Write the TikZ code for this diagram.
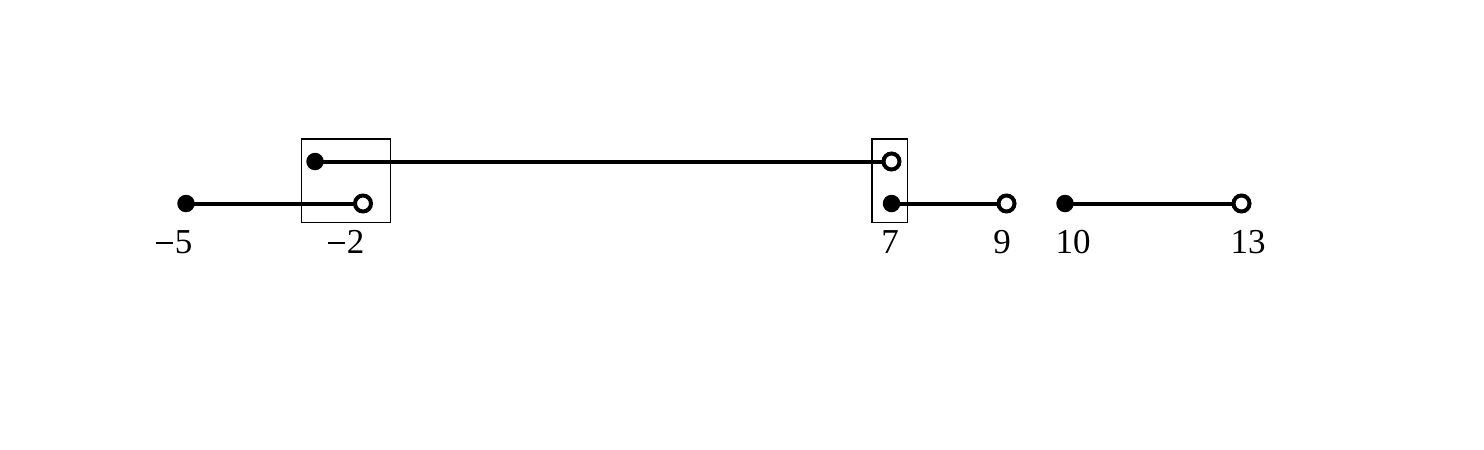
\documentclass[tikz,border=0pt]{standalone}
\usepackage{fontspec}
\setmainfont{Liberation Serif}
\begin{document}
\begin{tikzpicture}[x=1pt,y=-1pt,
  closedpt/.style={circle,fill=black,inner sep=0pt,minimum size=17.5pt},
  openpt/.style={circle,draw=black,line width=4pt,fill=white,inner sep=0pt,minimum size=16pt},
  seg/.style={line width=4pt},
  frame/.style={draw=black,line width=1.3pt},
  lab/.style={font=\fontsize{35}{40}\selectfont,inner sep=0pt}]
\useasboundingbox (0,0) rectangle (1484,450);
% boxes
\draw[frame] (301.5,139) rectangle (390.5,222.5);
\draw[frame] (872,139) rectangle (907.5,222.5);
% points
\coordinate (a1) at (186,203.5);
\coordinate (a2) at (363,203.5);
\coordinate (b1) at (315,161.5);
\coordinate (b2) at (891.5,161.5);
\coordinate (c1) at (891.5,203.5);
\coordinate (c2) at (1006.5,203.5);
\coordinate (d1) at (1065,203.5);
\coordinate (d2) at (1241.5,203.5);
\draw[seg] (a1) -- (a2);
\draw[seg] (b1) -- (b2);
\draw[seg] (c1) -- (c2);
\draw[seg] (d1) -- (d2);
\node[closedpt] (A1) at (a1) {};
\node[openpt] (A2) at (a2) {};
\node[closedpt] (B1) at (b1) {};
\node[openpt] (B2) at (b2) {};
\node[closedpt] (C1) at (c1) {};
\node[openpt] (C2) at (c2) {};
\node[closedpt] (D1) at (d1) {};
\node[openpt] (D2) at (d2) {};
% labels
\node[lab,anchor=base] (l1) at (174,253) {\rule[0.25em]{0.5em}{0.06em}\hspace{0.05em}5};
\node[lab,anchor=base] (l2) at (346,253) {\rule[0.25em]{0.5em}{0.06em}\hspace{0.05em}2};
\node[lab,anchor=base] (l3) at (890,253) {7};
\node[lab,anchor=base] (l4) at (1002,253) {9};
\node[lab,anchor=base] (l5) at (1073,253) {10};
\node[lab,anchor=base] (l6) at (1248,253) {13};
\end{tikzpicture}
\end{document}
